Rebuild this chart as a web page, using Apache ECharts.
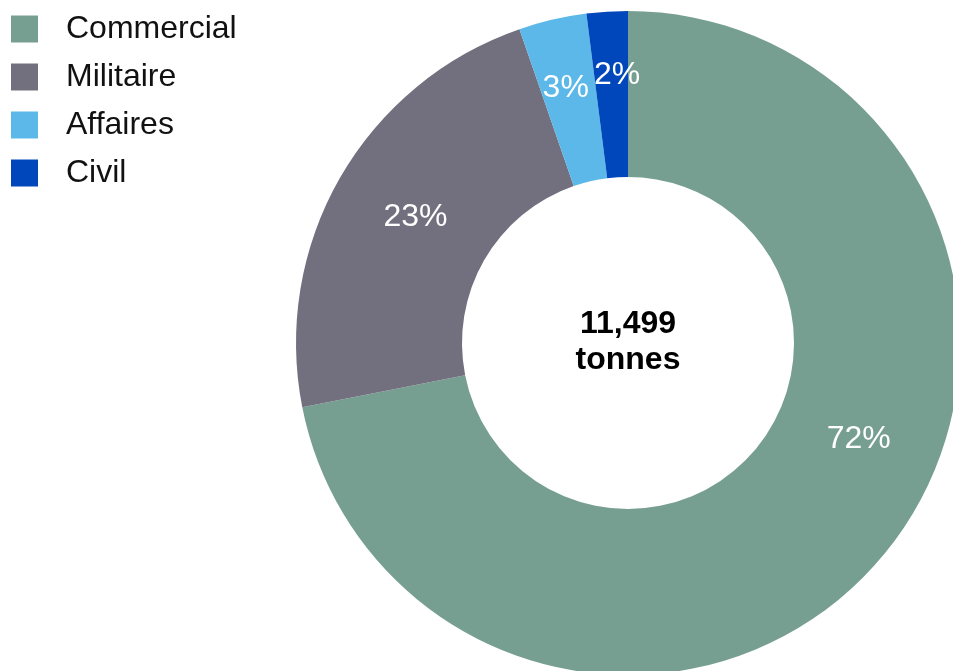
<!DOCTYPE html>
<html>
<head>
<meta charset="utf-8">
<script src="https://cdn.jsdelivr.net/npm/echarts@6/dist/echarts.min.js"></script>
<style>
html,body{margin:0;padding:0;background:#fff;}
#chart{width:953px;height:671px;}
</style>
</head>
<body>
<div id="chart"></div>
<script>
const categories = ['Commercial', 'Militaire', 'Affaires', 'Civil'];
const shares = [71.9, 22.8, 3.3, 2.0];
const colors = ['#779f91', '#72707f', '#5bb8e8', '#0047bb'];
const labelOffsets = [[36, -64], [6, 0], [-5, -9], [5, -16]];
const totalText = '11,499\ntonnes';

const font = '"Liberation Sans", Arial, Helvetica, sans-serif';
const chart = echarts.init(document.getElementById('chart'), null, {renderer: 'canvas'});
chart.setOption({
  animation: false,
  color: colors,
  legend: {
    orient: 'vertical',
    left: 6,
    top: 8,
    itemWidth: 27,
    itemHeight: 27,
    itemGap: 16,
    icon: 'rect',
    data: categories,
    textStyle: {
      fontFamily: font,
      fontSize: 32,
      color: '#111',
      padding: [0, 0, 0, 23]
    }
  },
  graphic: [{
    type: 'text',
    x: 628,
    y: 342,
    style: {
      text: totalText,
      font: 'bold 32px ' + font,
      fill: '#000',
      align: 'center',
      verticalAlign: 'middle',
      lineHeight: 36
    }
  }],
  series: [{
    type: 'pie',
    center: [628, 343],
    radius: [166, 332],
    startAngle: 90,
    clockwise: true,
    avoidLabelOverlap: false,
    itemStyle: {borderWidth: 0},
    emphasis: {disabled: true},
    label: {
      show: true,
      position: 'inside',
      color: '#fff',
      fontFamily: font,
      fontSize: 32,
      formatter: function (p) { return Math.round(p.value) + '%'; }
    },
    labelLine: {show: false},
    data: categories.map(function (c, i) {
      return {name: c, value: shares[i], label: {offset: labelOffsets[i]}};
    })
  }]
});
</script>
</body>
</html>
